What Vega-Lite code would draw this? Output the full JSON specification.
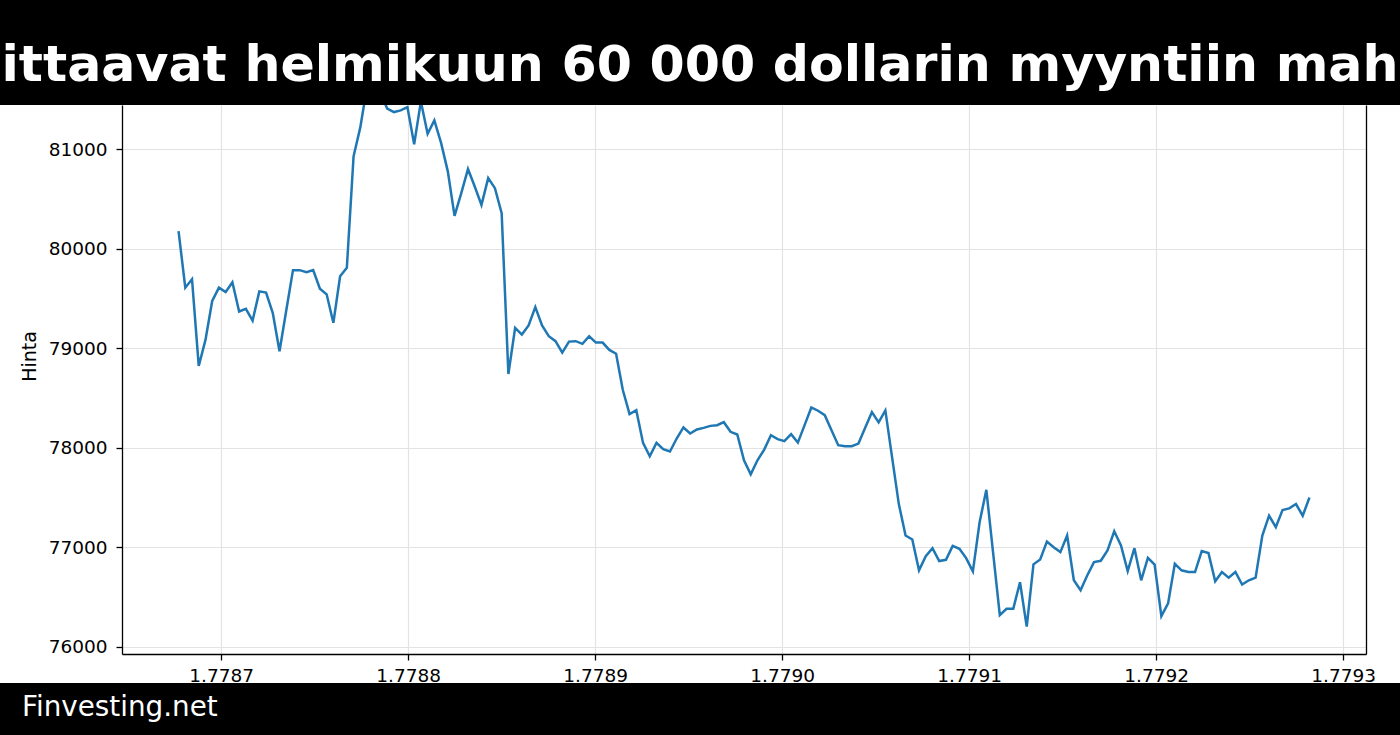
{
  "$schema": "https://vega.github.io/schema/vega-lite/v6.json",
  "padding": 0,
  "background": "white",
  "config": {
    "view": {"stroke": null},
    "axis": {"labelFont": "DejaVu Sans", "titleFont": "DejaVu Sans"}
  },
  "datasets": {
    "otsikko": [{"teksti": "ittaavat helmikuun 60 000 dollarin myyntiin mah"}],
    "alaotsikko": [{"teksti": "Finvesting.net"}],
    "hinnat": [
      {"aika": 1778677200, "hinta": 80178},
      {"aika": 1778680800, "hinta": 79609},
      {"aika": 1778684400, "hinta": 79694},
      {"aika": 1778688000, "hinta": 78822},
      {"aika": 1778691600, "hinta": 79084},
      {"aika": 1778695200, "hinta": 79475},
      {"aika": 1778698800, "hinta": 79609},
      {"aika": 1778702400, "hinta": 79566},
      {"aika": 1778706000, "hinta": 79663},
      {"aika": 1778709600, "hinta": 79370},
      {"aika": 1778713200, "hinta": 79397},
      {"aika": 1778716800, "hinta": 79279},
      {"aika": 1778720400, "hinta": 79572},
      {"aika": 1778724000, "hinta": 79559},
      {"aika": 1778727600, "hinta": 79354},
      {"aika": 1778731200, "hinta": 78970},
      {"aika": 1778734800, "hinta": 79380},
      {"aika": 1778738400, "hinta": 79785},
      {"aika": 1778742000, "hinta": 79785},
      {"aika": 1778745600, "hinta": 79764},
      {"aika": 1778749200, "hinta": 79785},
      {"aika": 1778752800, "hinta": 79599},
      {"aika": 1778756400, "hinta": 79542},
      {"aika": 1778760000, "hinta": 79256},
      {"aika": 1778763600, "hinta": 79724},
      {"aika": 1778767200, "hinta": 79808},
      {"aika": 1778770800, "hinta": 80929},
      {"aika": 1778774400, "hinta": 81220},
      {"aika": 1778778000, "hinta": 81630},
      {"aika": 1778781600, "hinta": 81860},
      {"aika": 1778785200, "hinta": 81560},
      {"aika": 1778788800, "hinta": 81410},
      {"aika": 1778792400, "hinta": 81374},
      {"aika": 1778796000, "hinta": 81391},
      {"aika": 1778799600, "hinta": 81424},
      {"aika": 1778803200, "hinta": 81050},
      {"aika": 1778806800, "hinta": 81480},
      {"aika": 1778810400, "hinta": 81155},
      {"aika": 1778814000, "hinta": 81290},
      {"aika": 1778817600, "hinta": 81064},
      {"aika": 1778821200, "hinta": 80778},
      {"aika": 1778824800, "hinta": 80330},
      {"aika": 1778828400, "hinta": 80559},
      {"aika": 1778832000, "hinta": 80801},
      {"aika": 1778835600, "hinta": 80626},
      {"aika": 1778839200, "hinta": 80441},
      {"aika": 1778842800, "hinta": 80710},
      {"aika": 1778846400, "hinta": 80609},
      {"aika": 1778850000, "hinta": 80357},
      {"aika": 1778853600, "hinta": 78741},
      {"aika": 1778857200, "hinta": 79205},
      {"aika": 1778860800, "hinta": 79138},
      {"aika": 1778864400, "hinta": 79229},
      {"aika": 1778868000, "hinta": 79414},
      {"aika": 1778871600, "hinta": 79229},
      {"aika": 1778875200, "hinta": 79121},
      {"aika": 1778878800, "hinta": 79071},
      {"aika": 1778882400, "hinta": 78956},
      {"aika": 1778886000, "hinta": 79067},
      {"aika": 1778889600, "hinta": 79071},
      {"aika": 1778893200, "hinta": 79044},
      {"aika": 1778896800, "hinta": 79121},
      {"aika": 1778900400, "hinta": 79057},
      {"aika": 1778904000, "hinta": 79057},
      {"aika": 1778907600, "hinta": 78983},
      {"aika": 1778911200, "hinta": 78945},
      {"aika": 1778914800, "hinta": 78580},
      {"aika": 1778918400, "hinta": 78338},
      {"aika": 1778922000, "hinta": 78378},
      {"aika": 1778925600, "hinta": 78049},
      {"aika": 1778929200, "hinta": 77915},
      {"aika": 1778932800, "hinta": 78049},
      {"aika": 1778936400, "hinta": 77985},
      {"aika": 1778940000, "hinta": 77962},
      {"aika": 1778943600, "hinta": 78093},
      {"aika": 1778947200, "hinta": 78204},
      {"aika": 1778950800, "hinta": 78143},
      {"aika": 1778954400, "hinta": 78184},
      {"aika": 1778958000, "hinta": 78200},
      {"aika": 1778961600, "hinta": 78220},
      {"aika": 1778965200, "hinta": 78227},
      {"aika": 1778968800, "hinta": 78257},
      {"aika": 1778972400, "hinta": 78160},
      {"aika": 1778976000, "hinta": 78133},
      {"aika": 1778979600, "hinta": 77874},
      {"aika": 1778983200, "hinta": 77733},
      {"aika": 1778986800, "hinta": 77874},
      {"aika": 1778990400, "hinta": 77982},
      {"aika": 1778994000, "hinta": 78126},
      {"aika": 1778997600, "hinta": 78086},
      {"aika": 1779001200, "hinta": 78066},
      {"aika": 1779004800, "hinta": 78136},
      {"aika": 1779008400, "hinta": 78052},
      {"aika": 1779012000, "hinta": 78227},
      {"aika": 1779015600, "hinta": 78405},
      {"aika": 1779019200, "hinta": 78372},
      {"aika": 1779022800, "hinta": 78328},
      {"aika": 1779026400, "hinta": 78177},
      {"aika": 1779030000, "hinta": 78026},
      {"aika": 1779033600, "hinta": 78016},
      {"aika": 1779037200, "hinta": 78016},
      {"aika": 1779040800, "hinta": 78042},
      {"aika": 1779044400, "hinta": 78200},
      {"aika": 1779048000, "hinta": 78358},
      {"aika": 1779051600, "hinta": 78255},
      {"aika": 1779055200, "hinta": 78375},
      {"aika": 1779058800, "hinta": 77903},
      {"aika": 1779062400, "hinta": 77434},
      {"aika": 1779066000, "hinta": 77118},
      {"aika": 1779069600, "hinta": 77078},
      {"aika": 1779073200, "hinta": 76768},
      {"aika": 1779076800, "hinta": 76911},
      {"aika": 1779080400, "hinta": 76991},
      {"aika": 1779084000, "hinta": 76861},
      {"aika": 1779087600, "hinta": 76874},
      {"aika": 1779091200, "hinta": 77014},
      {"aika": 1779094800, "hinta": 76984},
      {"aika": 1779098400, "hinta": 76891},
      {"aika": 1779102000, "hinta": 76758},
      {"aika": 1779105600, "hinta": 77251},
      {"aika": 1779109200, "hinta": 77577},
      {"aika": 1779112800, "hinta": 76948},
      {"aika": 1779116400, "hinta": 76318},
      {"aika": 1779120000, "hinta": 76382},
      {"aika": 1779123600, "hinta": 76382},
      {"aika": 1779127200, "hinta": 76648},
      {"aika": 1779130800, "hinta": 76202},
      {"aika": 1779134400, "hinta": 76828},
      {"aika": 1779138000, "hinta": 76878},
      {"aika": 1779141600, "hinta": 77058},
      {"aika": 1779145200, "hinta": 77001},
      {"aika": 1779148800, "hinta": 76951},
      {"aika": 1779152400, "hinta": 77118},
      {"aika": 1779156000, "hinta": 76668},
      {"aika": 1779159600, "hinta": 76568},
      {"aika": 1779163200, "hinta": 76718},
      {"aika": 1779166800, "hinta": 76851},
      {"aika": 1779170400, "hinta": 76864},
      {"aika": 1779174000, "hinta": 76968},
      {"aika": 1779177600, "hinta": 77161},
      {"aika": 1779181200, "hinta": 77018},
      {"aika": 1779184800, "hinta": 76761},
      {"aika": 1779188400, "hinta": 76991},
      {"aika": 1779192000, "hinta": 76668},
      {"aika": 1779195600, "hinta": 76894},
      {"aika": 1779199200, "hinta": 76825},
      {"aika": 1779202800, "hinta": 76308},
      {"aika": 1779206400, "hinta": 76435},
      {"aika": 1779210000, "hinta": 76834},
      {"aika": 1779213600, "hinta": 76768},
      {"aika": 1779217200, "hinta": 76751},
      {"aika": 1779220800, "hinta": 76751},
      {"aika": 1779224400, "hinta": 76961},
      {"aika": 1779228000, "hinta": 76941},
      {"aika": 1779231600, "hinta": 76658},
      {"aika": 1779235200, "hinta": 76751},
      {"aika": 1779238800, "hinta": 76695},
      {"aika": 1779242400, "hinta": 76751},
      {"aika": 1779246000, "hinta": 76625},
      {"aika": 1779249600, "hinta": 76668},
      {"aika": 1779253200, "hinta": 76695},
      {"aika": 1779256800, "hinta": 77118},
      {"aika": 1779260400, "hinta": 77317},
      {"aika": 1779264000, "hinta": 77201},
      {"aika": 1779267600, "hinta": 77374},
      {"aika": 1779271200, "hinta": 77391},
      {"aika": 1779274800, "hinta": 77434},
      {"aika": 1779278400, "hinta": 77317},
      {"aika": 1779282000, "hinta": 77500}
    ]
  },
  "concat": [
    {
      "width": 1400,
      "height": 105,
      "view": {"fill": "black", "stroke": null},
      "data": {"name": "otsikko"},
      "mark": {
        "type": "text",
        "clip": true,
        "font": "DejaVu Sans",
        "fontWeight": "bold",
        "fontSize": 50.6,
        "color": "white",
        "align": "center",
        "baseline": "alphabetic",
        "x": 700,
        "y": 81
      },
      "encoding": {"text": {"field": "teksti"}}
    },
    {
      "width": 1400,
      "height": 578,
      "data": {"name": "hinnat"},
      "layer": [
        {
          "mark": {"type": "line", "clip": true, "color": "#1f77b4", "strokeWidth": 2.5},
          "encoding": {
            "x": {
              "field": "aika",
              "type": "quantitative",
              "scale": {"domain": [1778646960, 1779312240], "range": [122, 1366], "nice": false, "zero": false},
              "axis": {
                "orient": "bottom",
                "offset": -29,
                "values": [1778700000, 1778800000, 1778900000, 1779000000, 1779100000, 1779200000, 1779300000],
                "labelExpr": "format(datum.value / 1000000000, '.4f')",
                "title": null,
                "grid": false,
                "domainColor": "#000000",
                "domainWidth": 1.3,
                "tickColor": "#000000",
                "tickWidth": 1.3,
                "tickSize": 6,
                "labelPadding": 6,
                "labelFontSize": 18.5,
                "labelColor": "#000000",
                "labelFlush": false,
                "labelOverlap": false
              }
            },
            "y": {
              "field": "hinta",
              "type": "quantitative",
              "scale": {"domain": [75927, 81445], "range": [549, 0], "nice": false, "zero": false},
              "axis": {
                "orient": "left",
                "offset": -122,
                "values": [76000, 77000, 78000, 79000, 80000, 81000],
                "format": "d",
                "title": "Hinta",
                "titleX": -87,
                "titleY": 251,
                "titleAngle": -90,
                "titleAlign": "center",
                "titleBaseline": "alphabetic",
                "titleFontSize": 19,
                "titleFontWeight": "normal",
                "titleColor": "#000000",
                "grid": true,
                "gridColor": "#e3e3e3",
                "gridWidth": 1.2,
                "domainColor": "#000000",
                "domainWidth": 1.3,
                "tickColor": "#000000",
                "tickWidth": 1.3,
                "tickSize": 6,
                "labelPadding": 9,
                "labelFontSize": 18.5,
                "labelColor": "#000000",
                "labelOverlap": false
              }
            }
          }
        },
        {
          "mark": {"type": "line", "opacity": 0},
          "encoding": {
            "x": {
              "field": "aika",
              "type": "quantitative",
              "axis": {
                "orient": "top",
                "values": [1778700000, 1778800000, 1778900000, 1779000000, 1779100000, 1779200000, 1779300000],
                "grid": true,
                "gridColor": "#e3e3e3",
                "gridWidth": 1.2,
                "labels": false,
                "ticks": false,
                "domain": false,
                "title": null
              }
            },
            "y": {
              "field": "hinta",
              "type": "quantitative",
              "axis": {
                "orient": "right",
                "offset": -34,
                "labels": false,
                "ticks": false,
                "grid": false,
                "title": null,
                "domainColor": "#000000",
                "domainWidth": 1.3
              }
            }
          }
        }
      ],
      "resolve": {"axis": {"x": "independent", "y": "independent"}}
    },
    {
      "width": 1400,
      "height": 52,
      "view": {"fill": "black", "stroke": null},
      "data": {"name": "alaotsikko"},
      "mark": {
        "type": "text",
        "font": "DejaVu Sans",
        "fontSize": 27.8,
        "color": "white",
        "align": "left",
        "baseline": "alphabetic",
        "x": 22,
        "y": 33
      },
      "encoding": {"text": {"field": "teksti"}}
    }
  ],
  "columns": 1,
  "spacing": 0,
  "bounds": "flush"
}
